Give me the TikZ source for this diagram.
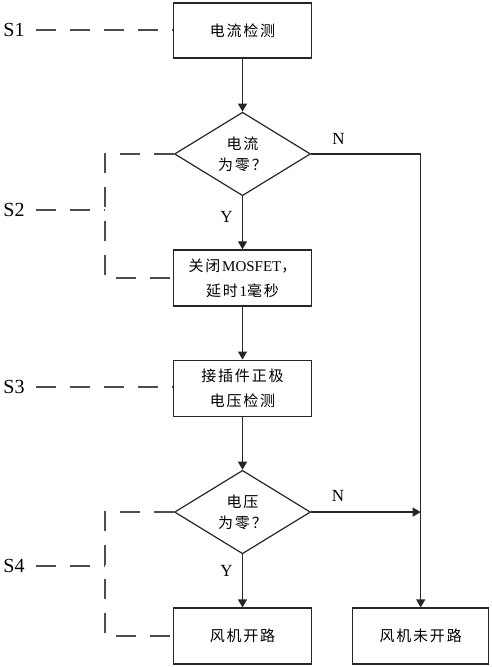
\documentclass[tikz,border=0pt]{standalone}
\usepackage{fontspec}
\setmainfont{Liberation Serif}
\newfontfamily\cjk[LetterSpace=12]{Noto Sans CJK SC}
\usetikzlibrary{arrows.meta,positioning,calc,shapes.geometric}
\begin{document}
\begin{tikzpicture}[x=1pt,y=-1pt,>={Triangle[length=8pt,width=9pt]},node distance=53pt,
  every node/.style={font=\fontsize{15}{25}\selectfont\cjk},
  box/.style={draw=black!85,line width=1.2pt,minimum width=138pt,minimum height=56pt,align=center,inner sep=2pt},
  dec/.style={draw=black!85,diamond,line width=1.2pt,minimum width=136pt,minimum height=81pt,inner sep=0pt,align=center,font=\fontsize{15}{21}\selectfont\cjk},
  steplbl/.style={font=\fontsize{20}{20}\selectfont\rmfamily},
  yn/.style={font=\fontsize{17}{17}\selectfont\rmfamily},
  flow/.style={->,draw=black!85,line width=1.2pt},
  guide/.style={draw=black!70,line width=1.2pt,dash pattern=on 20pt off 14pt}]
\useasboundingbox (0,0) rectangle (492,667);
% main column
\node[box,minimum height=55pt] (curdet) at (242.5,30.5) {电流检测};
\node[dec,below=of curdet] (curzero) {电流\\为零？};
\node[box,below=of curzero] (mosoff) {关闭\textrm{MOSFET}，\\延时\textrm{1}毫秒};
\node[box,below=of mosoff] (voltdet) {接插件正极\\电压检测};
\node[dec,below=of voltdet] (voltzero) {电压\\为零？};
\node[box,below=of voltzero] (fanopen) {风机开路};
\node[box,minimum width=136pt,right=40pt of fanopen] (fanok) {风机未开路};
\draw[flow] (curdet)--(curzero);
\draw[flow] (curzero)--node[yn,left=6pt,pos=0.38]{Y}(mosoff);
\draw[flow] (mosoff)--(voltdet);\draw[flow] (voltdet)--(voltzero);
\draw[flow] (voltzero)--node[yn,left=6pt,pos=0.31]{Y}(fanopen);
\draw[flow] (curzero.east)-|node[yn,above=6pt,pos=0.125]{N}(fanok.north);
\draw[flow] (voltzero.east)--node[yn,above=7pt,pos=0.245]{N}(voltzero.east-|fanok.north);
% step labels
\node[steplbl] (s1) at (14,30) {S1};
\node[steplbl] (s2) at (14,210) {S2};
\node[steplbl] (s3) at (14,387) {S3};
\node[steplbl] (s4) at (14,566) {S4};
\draw[guide] (curzero.west)--++(-69,0) coordinate (k2)|-(mosoff.west);
\draw[guide] (voltzero.west)--++(-69,0) coordinate (k4)|-(fanopen.west);
\draw[guide,shorten <=8pt] (s1.east)--(s1.east-|curdet.west);
\draw[guide,shorten <=8pt] (s2.east)--(s2.east-|k2);
\draw[guide,shorten <=8pt] (s3.east)--(s3.east-|voltdet.west);
\draw[guide,shorten <=8pt] (s4.east)--(s4.east-|k4);
\end{tikzpicture}
\end{document}
